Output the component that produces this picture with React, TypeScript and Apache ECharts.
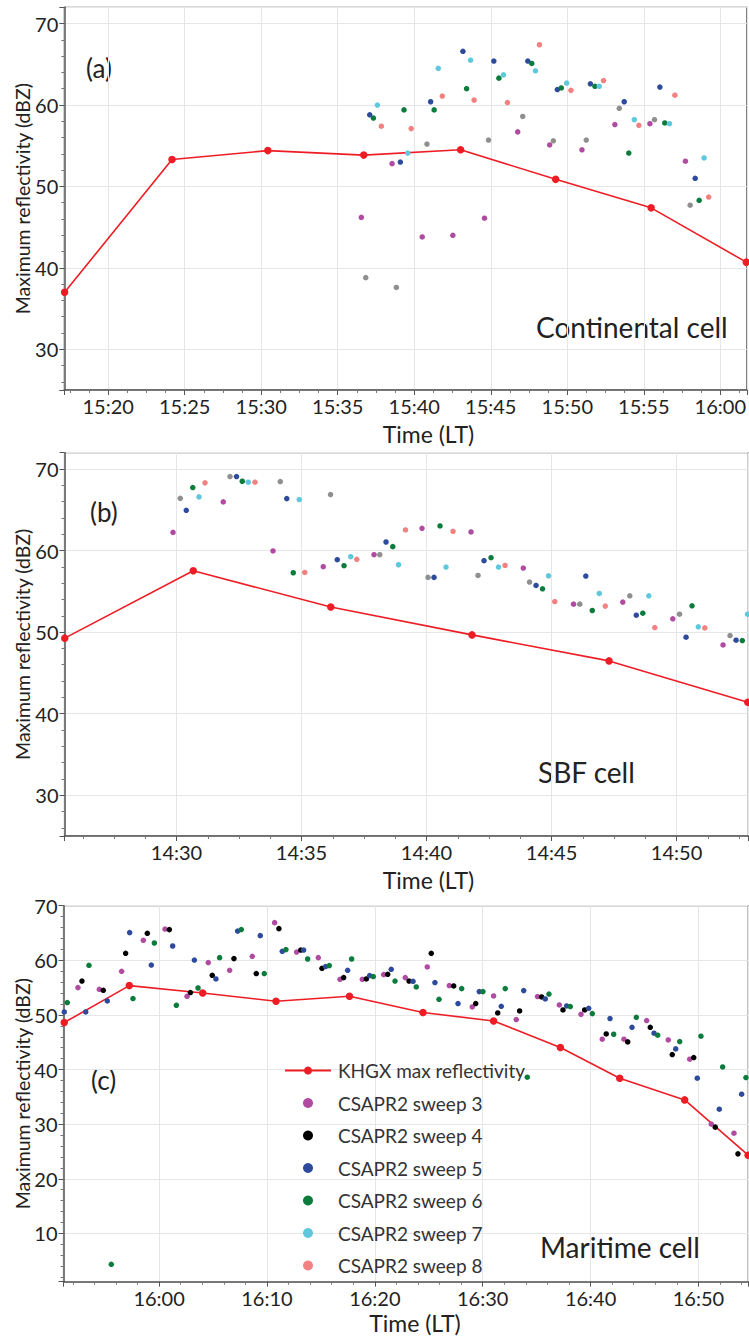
import React, { useEffect, useRef } from "react";
import * as echarts from "echarts";

// ---------- names ----------
const KHGX_NAME = "KHGX max reflectivity";
const SWEEP_NAMES = [
  "CSAPR2 sweep 3",
  "CSAPR2 sweep 4",
  "CSAPR2 sweep 5",
  "CSAPR2 sweep 6",
  "CSAPR2 sweep 7",
  "CSAPR2 sweep 8",
];
const PANEL_LABELS = ["(a)", "(b)", "(c)"];
const CELL_NAMES = ["Continental cell", "SBF cell", "Maritime cell"];

// ---------- panel (a): minutes after 15:00, dBZ ----------
const aKhgx = [[17.15, 37.0], [24.17, 53.3], [30.43, 54.4], [36.7, 53.85], [43.03, 54.5], [49.24, 50.87], [55.48, 47.37], [61.7, 40.7]];
const aSweep3 = [[36.54, 46.2], [38.55, 52.8], [40.52, 43.8], [42.52, 44.0], [44.59, 46.1], [46.76, 56.7], [48.85, 55.1], [50.96, 54.5], [53.11, 57.6], [55.4, 57.7], [57.72, 53.1]];
const aSweep4 = [[36.83, 38.8], [38.83, 37.6], [40.83, 55.2], [44.85, 55.7], [47.09, 58.6], [49.09, 55.6], [51.24, 55.7], [53.4, 59.6], [55.7, 58.2], [58.03, 47.7]];
const aSweep5 = [[37.09, 58.8], [39.09, 53.0], [41.07, 60.4], [43.18, 66.6], [45.2, 65.4], [47.42, 65.4], [49.35, 61.9], [51.51, 62.6], [53.72, 60.4], [56.05, 62.2], [58.36, 51.0]];
const aSweep6 = [[37.33, 58.4], [39.33, 59.4], [41.3, 59.4], [43.42, 62.0], [45.53, 63.3], [47.68, 65.1], [49.61, 62.1], [51.81, 62.3], [54.02, 54.1], [56.37, 57.8], [58.62, 48.3]];
const aSweep7 = [[37.59, 60.0], [39.57, 54.1], [41.57, 64.5], [43.68, 65.5], [45.83, 63.7], [47.92, 64.2], [49.96, 62.7], [52.09, 62.3], [54.38, 58.2], [56.68, 57.7], [58.94, 53.5]];
const aSweep8 = [[37.85, 57.4], [39.8, 57.1], [41.83, 61.1], [43.91, 60.6], [46.09, 60.3], [48.18, 67.4], [50.24, 61.8], [52.37, 63.0], [54.68, 57.5], [57.03, 61.2], [59.24, 48.7]];

// ---------- panel (b): minutes after 14:00, dBZ ----------
const bKhgx = [[25.53, 49.26], [30.67, 57.53], [36.17, 53.07], [41.82, 49.66], [47.3, 46.47], [52.85, 41.4]];
const bSweep3 = [[29.86, 62.23], [31.87, 65.97], [33.86, 59.95], [35.87, 58.02], [37.9, 59.49], [39.82, 62.73], [41.78, 62.28], [43.87, 57.86], [45.88, 53.43], [47.85, 53.68], [49.85, 51.63], [51.86, 48.43]];
const bSweep4 = [[30.15, 66.4], [32.14, 69.08], [34.15, 68.46], [36.16, 66.87], [38.13, 59.49], [40.06, 56.71], [42.06, 56.95], [44.12, 56.14], [46.13, 53.43], [48.13, 54.45], [50.12, 52.2], [52.14, 49.58]];
const bSweep5 = [[30.39, 64.94], [32.4, 69.08], [34.41, 66.37], [36.43, 58.88], [38.38, 61.05], [40.3, 56.71], [42.3, 58.76], [44.38, 55.72], [46.37, 56.87], [48.39, 52.08], [50.38, 49.38], [52.38, 49.01]];
const bSweep6 = [[30.65, 67.73], [32.63, 68.5], [34.67, 57.28], [36.7, 58.14], [38.65, 60.48], [40.54, 63.02], [42.58, 59.12], [44.64, 55.31], [46.63, 52.65], [48.65, 52.32], [50.62, 53.23], [52.63, 48.97]];
const bSweep7 = [[30.9, 66.58], [32.87, 68.38], [34.91, 66.25], [36.97, 59.25], [38.88, 58.26], [40.78, 57.98], [42.88, 57.98], [44.88, 56.91], [46.91, 54.74], [48.89, 54.45], [50.87, 50.65], [52.84, 52.2]];
const bSweep8 = [[31.14, 68.3], [33.14, 68.38], [35.13, 57.32], [37.21, 58.92], [39.16, 62.53], [41.06, 62.36], [43.14, 58.18], [45.13, 53.75], [47.15, 53.19], [49.13, 50.56], [51.13, 50.52]];

// ---------- panel (c): minutes after 15:00, dBZ ----------
const cKhgx = [[51.21, 48.6], [57.24, 55.37], [64.04, 54.02], [70.84, 52.5], [77.65, 53.41], [84.46, 50.43], [91.01, 48.9], [97.2, 44.03], [102.7, 38.41], [108.72, 34.44], [114.6, 24.32]];
const cSweep3 = [[52.48, 55.0], [54.46, 54.69], [56.53, 57.99], [58.54, 63.66], [60.55, 65.73], [62.59, 53.41], [64.56, 59.58], [66.54, 58.17], [68.64, 60.73], [70.71, 66.9], [72.75, 61.52], [74.76, 60.49], [76.77, 56.52], [78.84, 56.52], [80.82, 57.38], [82.82, 56.83], [84.86, 58.78], [86.9, 55.37], [89.03, 51.46], [91.01, 53.47], [93.11, 49.15], [95.08, 53.36], [97.1, 51.83], [99.11, 50.12], [101.08, 45.55], [103.09, 45.55], [105.2, 48.97], [107.2, 45.42], [109.19, 41.89], [111.19, 30.0], [113.29, 28.35]];
const cSweep4 = [[52.85, 56.21], [54.83, 54.51], [56.9, 61.28], [58.91, 64.94], [60.95, 65.62], [62.9, 54.09], [64.93, 57.26], [66.94, 60.31], [69.01, 57.57], [71.11, 65.8], [73.13, 61.88], [75.1, 58.54], [77.11, 56.83], [79.21, 56.58], [81.19, 57.44], [83.17, 56.21], [85.23, 61.28], [87.31, 55.3], [89.35, 52.08], [91.39, 50.36], [93.42, 50.73], [95.46, 53.29], [97.44, 50.91], [99.45, 50.91], [101.45, 46.52], [103.44, 45.06], [105.53, 47.74], [107.57, 42.74], [109.56, 42.2], [111.56, 29.45], [113.66, 24.56]];
const cSweep5 = [[51.21, 50.54], [53.2, 50.54], [55.2, 52.56], [57.27, 65.07], [59.28, 59.14], [61.26, 62.62], [63.27, 60.05], [65.27, 56.58], [67.28, 65.36], [69.38, 64.52], [71.42, 61.65], [73.4, 61.88], [75.44, 58.85], [77.48, 58.17], [79.52, 57.2], [81.52, 58.35], [83.54, 56.16], [85.57, 55.92], [87.71, 52.08], [89.68, 54.27], [91.72, 51.58], [93.8, 54.45], [95.8, 52.92], [97.78, 51.64], [99.82, 51.22], [101.8, 49.33], [103.84, 47.74], [105.88, 46.65], [107.89, 43.78], [109.89, 38.41], [111.93, 32.74], [114.0, 35.49]];
const cSweep6 = [[51.49, 52.26], [53.5, 59.09], [55.57, 4.33], [57.58, 52.99], [59.56, 63.17], [61.6, 51.77], [63.61, 54.93], [65.61, 60.49], [67.62, 65.62], [69.75, 57.57], [71.76, 61.96], [73.77, 60.24], [75.78, 59.03], [77.85, 60.24], [79.86, 57.02], [81.87, 56.21], [83.84, 55.12], [85.95, 52.86], [88.05, 54.82], [90.02, 54.27], [92.09, 54.82], [94.13, 38.6], [96.14, 53.83], [98.12, 51.53], [100.16, 50.24], [102.14, 46.46], [104.24, 49.57], [106.22, 46.28], [108.26, 45.13], [110.23, 46.1], [112.24, 40.48], [114.4, 38.54]];

// ---------- axis ranges (minutes since midnight) ----------
const xRanges = [[917.13, 961.73], [865.52, 892.87], [951.14, 1014.61]];
const yRanges = [[25, 72], [25, 72], [1.15, 70]];

const COLORS = {
  khgx: "#ee1d25",
  s3: "#b14ba1",
  s4gray: "#8f8f8f",
  s4black: "#000000",
  s5: "#2d4a9d",
  s6: "#0b7c3b",
  s7: "#5fc8dc",
  s8: "#f28281",
};

const FONT = "Lato";

const toAbs = (base: number, arr: number[][]) => arr.map(([m, v]) => [base + m, v]);

const fmtTime = (v: number) => {
  const tot = Math.round(v);
  const h = Math.floor(tot / 60);
  const m = tot % 60;
  return `${h}:${m < 10 ? "0" + m : m}`;
};

export default function App() {
  const ref = useRef<HTMLDivElement>(null);

  useEffect(() => {
    if (!ref.current) return;
    const chart = echarts.init(ref.current, undefined, { renderer: "svg" });

    const grids = [
      { left: 64.3, top: 7.3, width: 684, height: 382.7 },
      { left: 64.5, top: 452.7, width: 683.8, height: 383.3 },
      { left: 63.5, top: 905.7, width: 684.7, height: 376 },
    ];
    const xSplit = [9, 5, 6];
    const xMinor = [4, 4, 5];
    const ySplit = [5, 5, 7];

    const axisLine = { show: true, onZero: false, lineStyle: { color: "#555", width: 1.5 } };
    const xAxis = grids.map((_, i) => ({
      type: "value",
      gridIndex: i,
      min: xRanges[i][0],
      max: xRanges[i][1],
      splitNumber: xSplit[i],
      axisLine,
      axisTick: { show: true, length: 5, lineStyle: { color: "#555", width: 1 } },
      minorTick: { show: true, splitNumber: xMinor[i], length: 3, lineStyle: { color: "#777", width: 1 } },
      axisLabel: {
        formatter: fmtTime,
        fontFamily: FONT,
        fontSize: 20,
        color: "#222",
        margin: 6,
        showMinLabel: false,
        showMaxLabel: false,
      },
      splitLine: { show: true, lineStyle: { color: "#e6e6e6", width: 1 } },
      minorSplitLine: { show: false },
    }));
    const yAxis = grids.map((_, i) => ({
      type: "value",
      gridIndex: i,
      min: yRanges[i][0],
      max: yRanges[i][1],
      splitNumber: ySplit[i],
      axisLine,
      axisTick: { show: true, length: 5, lineStyle: { color: "#555", width: 1 } },
      minorTick: { show: true, splitNumber: 5, length: 3, lineStyle: { color: "#777", width: 1 } },
      axisLabel: {
        fontFamily: FONT,
        fontSize: 20,
        color: "#222",
        margin: 6,
        showMinLabel: false,
        showMaxLabel: i === 2,
      },
      splitLine: { show: true, lineStyle: { color: "#e6e6e6", width: 1 } },
      minorSplitLine: { show: false },
    }));

    const khgxSeries = (idx: number, data: number[][]) => ({
      name: KHGX_NAME,
      type: "line",
      xAxisIndex: idx,
      yAxisIndex: idx,
      data,
      symbol: "circle",
      symbolSize: 7.5,
      showSymbol: true,
      lineStyle: { color: COLORS.khgx, width: 1.6 },
      itemStyle: { color: COLORS.khgx },
      emphasis: { disabled: true },
      z: 2,
    });
    const sweepSeries = (idx: number, name: string, color: string, data: number[][]) => ({
      name,
      type: "scatter",
      xAxisIndex: idx,
      yAxisIndex: idx,
      data,
      symbol: "circle",
      symbolSize: 5.5,
      itemStyle: { color, opacity: 1 },
      emphasis: { disabled: true },
      z: 3,
    });

    const series = [
      // panel c first so legend colours come from it
      khgxSeries(2, toAbs(900, cKhgx)),
      sweepSeries(2, SWEEP_NAMES[0], COLORS.s3, toAbs(900, cSweep3)),
      sweepSeries(2, SWEEP_NAMES[1], COLORS.s4black, toAbs(900, cSweep4)),
      sweepSeries(2, SWEEP_NAMES[2], COLORS.s5, toAbs(900, cSweep5)),
      sweepSeries(2, SWEEP_NAMES[3], COLORS.s6, toAbs(900, cSweep6)),
      // panel a
      khgxSeries(0, toAbs(900, aKhgx)),
      sweepSeries(0, SWEEP_NAMES[0], COLORS.s3, toAbs(900, aSweep3)),
      sweepSeries(0, SWEEP_NAMES[1], COLORS.s4gray, toAbs(900, aSweep4)),
      sweepSeries(0, SWEEP_NAMES[2], COLORS.s5, toAbs(900, aSweep5)),
      sweepSeries(0, SWEEP_NAMES[3], COLORS.s6, toAbs(900, aSweep6)),
      sweepSeries(0, SWEEP_NAMES[4], COLORS.s7, toAbs(900, aSweep7)),
      sweepSeries(0, SWEEP_NAMES[5], COLORS.s8, toAbs(900, aSweep8)),
      // panel b
      khgxSeries(1, toAbs(840, bKhgx)),
      sweepSeries(1, SWEEP_NAMES[0], COLORS.s3, toAbs(840, bSweep3)),
      sweepSeries(1, SWEEP_NAMES[1], COLORS.s4gray, toAbs(840, bSweep4)),
      sweepSeries(1, SWEEP_NAMES[2], COLORS.s5, toAbs(840, bSweep5)),
      sweepSeries(1, SWEEP_NAMES[3], COLORS.s6, toAbs(840, bSweep6)),
      sweepSeries(1, SWEEP_NAMES[4], COLORS.s7, toAbs(840, bSweep7)),
      sweepSeries(1, SWEEP_NAMES[5], COLORS.s8, toAbs(840, bSweep8)),
    ];

    const legendColors = [COLORS.s3, COLORS.s4black, COLORS.s5, COLORS.s6, COLORS.s7, COLORS.s8];
    const legendData: any[] = [{ name: KHGX_NAME }].concat(
      SWEEP_NAMES.map((n, i) => ({ name: n, icon: "circle", itemStyle: { color: legendColors[i] } })) as any
    );

    const textEl = (text: string, x: number, y: number, size: number, align = "left", rotation = 0) => ({
      type: "text",
      x,
      y,
      rotation,
      silent: true,
      style: {
        text,
        fill: "#222",
        font: `${size}px ${FONT}`,
        textAlign: align,
        textVerticalAlign: "middle",
      },
    });

    const plotCenters = grids.map((g) => g.top + g.height / 2);
    const graphic = [
      textEl(PANEL_LABELS[0], 86, 68, 26),
      textEl(PANEL_LABELS[1], 90, 512, 26),
      textEl(PANEL_LABELS[2], 91, 1080, 26),
      textEl(CELL_NAMES[0], 536, 327, 28),
      textEl(CELL_NAMES[1], 538, 772, 28),
      textEl(CELL_NAMES[2], 540, 1247, 28),
      textEl("Time (LT)", 428.5, 434, 23, "center"),
      textEl("Time (LT)", 428.5, 880, 23, "center"),
      textEl("Time (LT)", 415, 1323, 23, "center"),
      textEl("Maximum reflectivity (dBZ)", 22, plotCenters[0], 19.5, "center", Math.PI / 2),
      textEl("Maximum reflectivity (dBZ)", 22, plotCenters[1], 19.5, "center", Math.PI / 2),
      textEl("Maximum reflectivity (dBZ)", 22, plotCenters[2], 19.5, "center", Math.PI / 2),
    ];

    chart.setOption({
      animation: false,
      backgroundColor: "#ffffff",
      grid: grids.map((g) => ({ ...g, show: true, borderColor: "#666", borderWidth: 1.2, backgroundColor: "transparent" })),
      xAxis,
      yAxis,
      legend: {
        show: true,
        orient: "vertical",
        left: 284,
        top: 1061,
        padding: 0,
        itemWidth: 46,
        itemHeight: 10,
        itemGap: 13.5,
        selectedMode: false,
        textStyle: { fontFamily: FONT, fontSize: 19, color: "#333", lineHeight: 18, padding: [0, 0, 0, 2] },
        data: legendData,
      },
      series,
      graphic,
    } as any);

    return () => chart.dispose();
  }, []);

  return (
    <div
      ref={ref}
      style={{ position: "absolute", left: 0, top: 0, width: 749, height: 1336, background: "#fff" }}
    />
  );
}
